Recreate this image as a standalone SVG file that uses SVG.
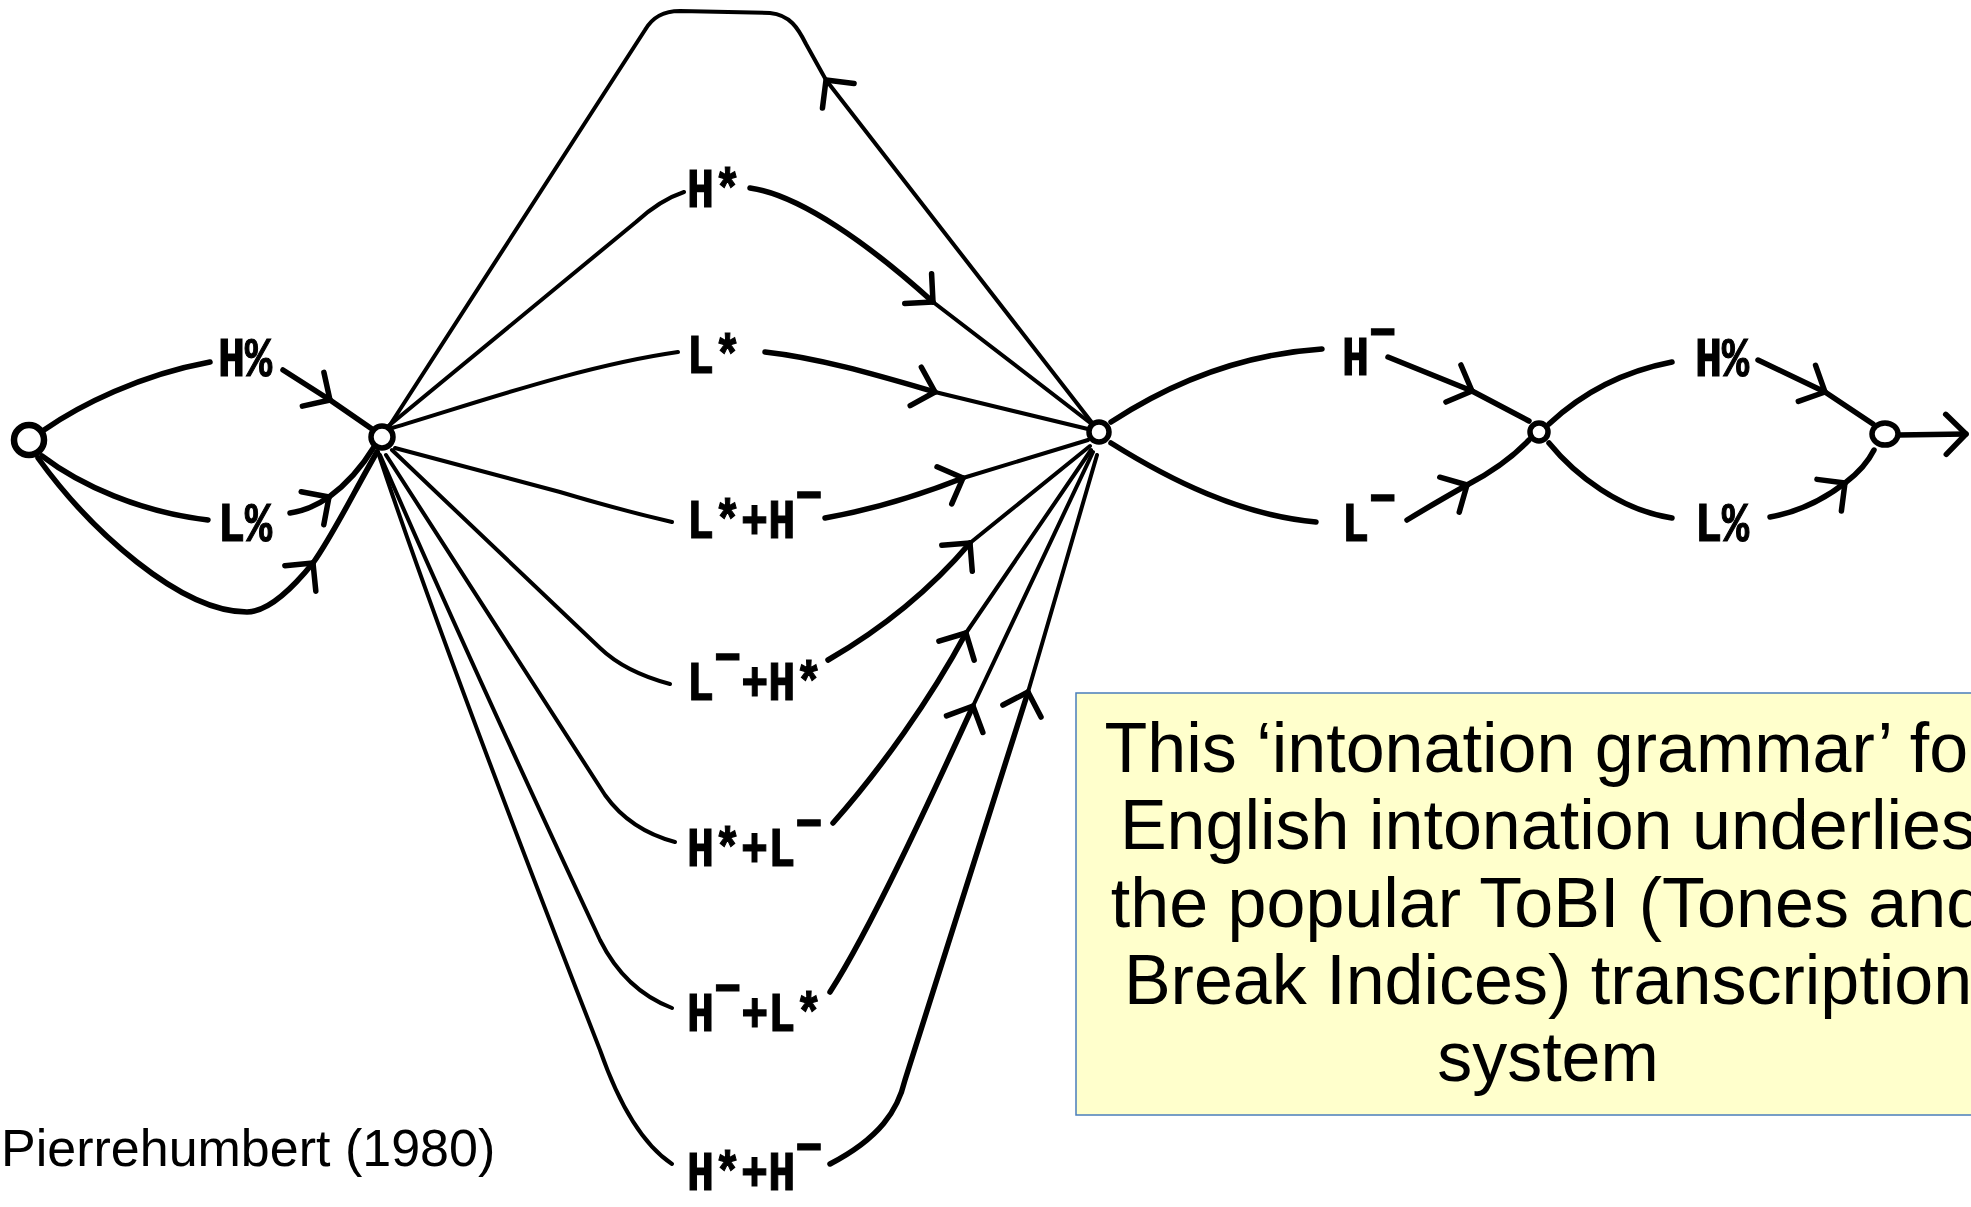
<svg xmlns="http://www.w3.org/2000/svg" width="1971" height="1207" viewBox="0 0 1971 1207">
  <style>
    .bg { fill: #ffffff; }
    .node { fill: #ffffff; stroke: #000; stroke-width: 5.5; }
    .e { fill: none; stroke: #000; stroke-width: 5.5; stroke-linecap: round; stroke-linejoin: round; }
    .thin { stroke-width: 4; }
    .lbl { font-family: "Liberation Mono", "DejaVu Sans Mono", monospace; font-weight: bold; font-size: 55px; fill: #000; stroke: #000; stroke-width: 1.2; }
    .note-box { fill: #ffffcc; stroke: #4a7ebb; stroke-width: 1.5; }
    .note { font-family: "Liberation Sans", Arial, sans-serif; font-size: 70px; fill: #000; text-anchor: middle; }
    .credit { font-family: "Liberation Sans", Arial, sans-serif; font-size: 52px; fill: #000; }
  </style>
  <defs>
    <!-- open chevron arrowhead, drawn part-way along each transition -->
    <marker id="chev" markerUnits="userSpaceOnUse" viewBox="-30 -30 60 60" markerWidth="60" markerHeight="60" refX="0" refY="0" orient="auto" overflow="visible">
      <path d="M -20,-20 L 0,0 L -20,20" fill="none" stroke="#000" stroke-width="5.5" stroke-linecap="round" stroke-linejoin="round"/>
    </marker>
  </defs>

  <rect class="bg" x="0" y="0" width="1971" height="1207"/>

  <g id="connectors">
    <!-- initial state to boundary tones -->
    <path class="e" d="M 44,430 C 80,405 140,375 210,362"/>
    <path class="e" d="M 283,370 L 330,400" marker-end="url(#chev)"/>
    <path class="e" d="M 330,400 L 372,429"/>
    <path class="e" d="M 42,456 C 80,485 140,512 208,520"/>
    <path class="e" d="M 290,513 Q 310,510 329,497" marker-end="url(#chev)"/>
    <path class="e" d="M 329,497 Q 355,478 374,447"/>
    <!-- bypass under the boundary tones -->
    <path class="e" d="M 38,458 C 90,530 180,612 247,612 C 270,612 295,585 313,563" marker-end="url(#chev)"/>
    <path class="e" d="M 313,563 C 333,535 355,490 377,452"/>

    <!-- loop back from the accent node -->
    <path class="e thin" d="M 1093,424 L 826,80" marker-end="url(#chev)"/>
    <path class="e thin" d="M 826,80 L 806,44 C 798,28 790,15 770,13 L 680,11 C 662,11 652,18 645,30 L 388,428"/>

    <!-- pitch accents: H* -->
    <path class="e thin" d="M 386,428 L 636,222 Q 660,200 684,192"/>
    <path class="e" d="M 750,188 C 800,195 870,245 933,302" marker-end="url(#chev)"/>
    <path class="e thin" d="M 933,302 L 1093,425"/>
    <!-- L* -->
    <path class="e thin" d="M 392,428 C 470,405 580,366 678,352"/>
    <path class="e" d="M 765,352 C 820,358 880,376 935,392" marker-end="url(#chev)"/>
    <path class="e thin" d="M 935,392 L 1092,430"/>
    <!-- L*+H- -->
    <path class="e thin" d="M 395,448 L 560,492 Q 620,510 672,522"/>
    <path class="e" d="M 825,518 C 870,510 920,495 963,478" marker-end="url(#chev)"/>
    <path class="e thin" d="M 963,478 L 1088,440"/>
    <!-- L-+H* -->
    <path class="e thin" d="M 392,450 L 600,648 Q 625,672 670,684"/>
    <path class="e" d="M 828,660 C 880,630 930,590 970,543" marker-end="url(#chev)"/>
    <path class="e thin" d="M 970,543 L 1090,446"/>
    <!-- H*+L- -->
    <path class="e thin" d="M 386,455 L 605,795 Q 630,830 675,842"/>
    <path class="e" d="M 833,823 C 880,770 930,700 966,633" marker-end="url(#chev)"/>
    <path class="e thin" d="M 966,633 L 1091,450"/>
    <!-- H-+L* -->
    <path class="e thin" d="M 380,455 Q 460,640 600,940 Q 625,990 672,1008"/>
    <path class="e" d="M 830,992 C 870,930 930,800 973,706" marker-end="url(#chev)"/>
    <path class="e thin" d="M 973,706 L 1093,452"/>
    <!-- H*+H- -->
    <path class="e thin" d="M 378,452 Q 440,640 600,1050 Q 630,1136 672,1164"/>
    <path class="e" d="M 830,1164 C 880,1138 898,1110 905,1080 L 1028,692" marker-end="url(#chev)"/>
    <path class="e thin" d="M 1028,692 L 1097,455"/>

    <!-- phrase accents -->
    <path class="e" d="M 1111,422 C 1160,390 1230,355 1322,349"/>
    <path class="e" d="M 1388,357 L 1472,391" marker-end="url(#chev)"/>
    <path class="e" d="M 1472,391 L 1529,421"/>
    <path class="e" d="M 1111,443 C 1170,480 1240,515 1316,522"/>
    <path class="e" d="M 1407,520 Q 1440,500 1467,485" marker-end="url(#chev)"/>
    <path class="e" d="M 1467,485 Q 1505,465 1529,440"/>

    <!-- final boundary tones -->
    <path class="e" d="M 1549,424 C 1580,395 1620,372 1672,362"/>
    <path class="e" d="M 1758,360 L 1825,392" marker-end="url(#chev)"/>
    <path class="e" d="M 1825,392 L 1873,424"/>
    <path class="e" d="M 1549,443 C 1575,475 1620,510 1672,518"/>
    <path class="e" d="M 1770,517 Q 1810,510 1845,483" marker-end="url(#chev)"/>
    <path class="e" d="M 1845,483 Q 1865,468 1874,450"/>

    <!-- exit -->
    <path class="e" d="M 1898,435 L 1966,434" marker-end="url(#chev)"/>
  </g>

  <!-- states -->
  <g id="n0"><circle class="node" cx="29" cy="440" r="15" style="stroke-width:6.5"/></g>
  <g id="n1"><circle class="node" cx="382" cy="437" r="11"/></g>
  <g id="n2"><circle class="node" cx="1099" cy="432" r="10"/></g>
  <g id="n3"><circle class="node" cx="1539" cy="432" r="9"/></g>
  <g id="n4"><ellipse class="node" cx="1885" cy="434" rx="13" ry="11"/></g>

  <!-- tone labels -->
  <g id="lbl-hb1"><text class="lbl" transform="translate(218 376) scale(0.82 1)">H%</text></g>
  <g id="lbl-lb1"><text class="lbl" transform="translate(218 541) scale(0.82 1)">L%</text></g>
  <g id="lbl-hs"><text class="lbl" transform="translate(687 207) scale(0.82 1)">H*</text></g>
  <g id="lbl-ls"><text class="lbl" transform="translate(687 373) scale(0.82 1)">L*</text></g>
  <g id="lbl-lshm"><text class="lbl" transform="translate(687 538) scale(0.82 1)">L*+H<tspan dy="-25">−</tspan></text></g>
  <g id="lbl-lmhs"><text class="lbl" transform="translate(687 700) scale(0.82 1)">L<tspan dy="-25">−</tspan><tspan dy="25">+H*</tspan></text></g>
  <g id="lbl-hslm"><text class="lbl" transform="translate(687 866) scale(0.82 1)">H*+L<tspan dy="-25">−</tspan></text></g>
  <g id="lbl-hmls"><text class="lbl" transform="translate(687 1031) scale(0.82 1)">H<tspan dy="-25">−</tspan><tspan dy="25">+L*</tspan></text></g>
  <g id="lbl-hshm"><text class="lbl" transform="translate(687 1190) scale(0.82 1)">H*+H<tspan dy="-25">−</tspan></text></g>
  <g id="lbl-hm"><text class="lbl" transform="translate(1342 375) scale(0.82 1)">H<tspan dy="-25">−</tspan></text></g>
  <g id="lbl-lm"><text class="lbl" transform="translate(1342 541) scale(0.82 1)">L<tspan dy="-25">−</tspan></text></g>
  <g id="lbl-hb2"><text class="lbl" transform="translate(1695 376) scale(0.82 1)">H%</text></g>
  <g id="lbl-lb2"><text class="lbl" transform="translate(1695 541) scale(0.82 1)">L%</text></g>

  <!-- explanatory note -->
  <g id="note">
    <rect class="note-box" x="1076" y="693" width="960" height="422"/>
    <text class="note" x="1548" y="772">This ‘intonation grammar’ for</text>
    <text class="note" x="1548" y="849">English intonation underlies</text>
    <text class="note" x="1548" y="927">the popular ToBI (Tones and</text>
    <text class="note" x="1548" y="1004">Break Indices) transcription</text>
    <text class="note" x="1548" y="1081">system</text>
  </g>

  <g id="credit"><text class="credit" x="1" y="1166">Pierrehumbert (1980)</text></g>
</svg>
